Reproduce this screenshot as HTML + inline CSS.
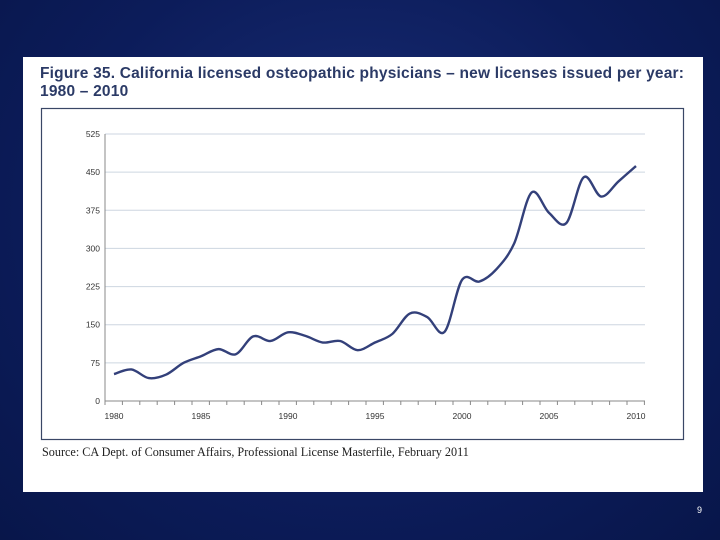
<!DOCTYPE html>
<html><head><meta charset="utf-8"><style>
html,body{margin:0;padding:0;}
body{width:720px;height:540px;overflow:hidden;background:radial-gradient(ellipse at 50% 40%,#1a2f78 0%,#0c1c5a 60%,#08164a 100%);position:relative;font-family:"Liberation Sans",sans-serif;}
#panel{position:absolute;left:23px;top:57px;width:680px;height:435px;background:#fff;}
#title{position:absolute;left:40px;top:65px;font-size:15.5px;font-weight:bold;color:#2b3a66;line-height:18px;letter-spacing:0.2px;white-space:nowrap;}
#num{position:absolute;left:697px;top:505px;color:#fff;font-size:9px;}
svg{position:absolute;left:0;top:0;}
</style></head><body>
<div id="panel"></div>
<div id="title">Figure 35. California licensed osteopathic physicians – new licenses issued per year:<br>1980 – 2010</div>
<div id="num">9</div>
<svg id="chart" width="720" height="540"></svg>
<script>
const years=[1980,1981,1982,1983,1984,1985,1986,1987,1988,1989,1990,1991,1992,1993,1994,1995,1996,1997,1998,1999,2000,2001,2002,2003,2004,2005,2006,2007,2008,2009,2010];
const licenses=[53,62,45,52,75,88,102,92,127,118,135,128,115,118,100,115,132,172,165,136,238,235,260,310,410,370,350,440,402,432,462];
const yTicks=[0,75,150,225,300,375,450,525];
const xLabels=[1980,1985,1990,1995,2000,2005,2010];
const NS="http://www.w3.org/2000/svg";
const svg=document.getElementById('chart');
function X(y){return 114+(y-1980)*(636-114)/30;}
function Y(v){return 401-v*(401-134)/525;}
function mk(t,a){const e=document.createElementNS(NS,t);for(const k in a)e.setAttribute(k,a[k]);svg.appendChild(e);return e;}
let e=mk('rect',{x:41.5,y:108.5,width:642,height:331,fill:'none',stroke:'#3a4766','stroke-width':1.2});


yTicks.forEach(v=>{
 if(v>0){let g=mk('line',{x1:105,x2:645,y1:Y(v),y2:Y(v),stroke:'#cdd6e0','stroke-width':1});
 
 }
 let t=mk('text',{x:100,y:Y(v)+3,'text-anchor':'end','font-size':8.5,fill:'#333','font-family':'Liberation Sans, sans-serif'});
 t.textContent=v;
 
 
});
e=mk('line',{x1:105,x2:105,y1:134,y2:401,stroke:'#888','stroke-width':1});


e=mk('line',{x1:105,x2:645,y1:401,y2:401,stroke:'#888','stroke-width':1});


for(let i=0;i<=31;i++){const xx=105+i*(636-114)/30;
 let tk=mk('line',{x1:xx,x2:xx,y1:401,y2:405,stroke:'#888','stroke-width':1});
 
 }
xLabels.forEach(yr=>{let t=mk('text',{x:X(yr),y:419,'text-anchor':'middle','font-size':8.5,fill:'#333','font-family':'Liberation Sans, sans-serif'});
 t.textContent=yr;
 
 });
const pts=years.map((y,i)=>[X(y),Y(licenses[i])]);
let d='M'+pts[0][0]+','+pts[0][1];
for(let i=0;i<pts.length-1;i++){const p0=pts[Math.max(0,i-1)],p1=pts[i],p2=pts[i+1],p3=pts[Math.min(pts.length-1,i+2)];
 const c1=[p1[0]+(p2[0]-p0[0])/6,p1[1]+(p2[1]-p0[1])/6],c2=[p2[0]-(p3[0]-p1[0])/6,p2[1]-(p3[1]-p1[1])/6];
 d+=' C'+c1+' '+c2+' '+p2;}
e=mk('path',{d:d,fill:'none',stroke:'#33407a','stroke-width':2.4,'stroke-linejoin':'round'});


let s=mk('text',{x:42,y:456,'font-size':12.2,fill:'#222','font-family':'Liberation Serif, serif'});
s.textContent='Source: CA Dept. of Consumer Affairs, Professional License Masterfile, February 2011';


</script>
</body></html>
